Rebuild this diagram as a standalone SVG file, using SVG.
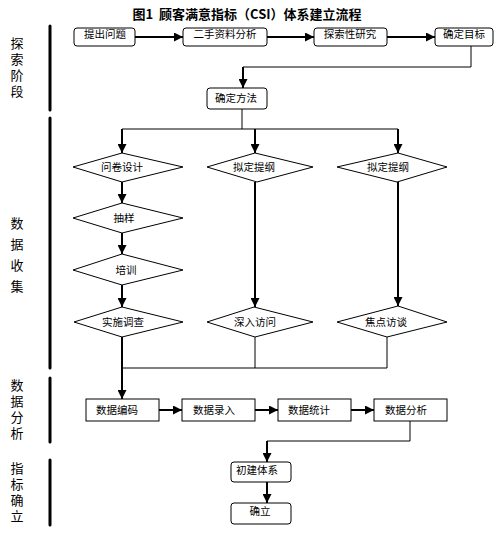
<svg xmlns="http://www.w3.org/2000/svg" width="504" height="544" viewBox="0 0 504 544">
<defs>
<marker id="ah" viewBox="0 0 10 10" refX="10" refY="5" markerWidth="9" markerHeight="9" markerUnits="userSpaceOnUse" orient="auto">
<path d="M0,0 L10,5 L0,10 z" fill="#000"/>
</marker>
<style>
.t{font-family:"Noto Sans CJK SC","Noto Sans",sans-serif;font-size:10.5px;fill:#000;text-anchor:middle}
.lab{font-family:"Noto Sans CJK SC","Noto Sans",sans-serif;font-size:13px;fill:#000;writing-mode:vertical-rl;text-anchor:start}
.title{font-family:"Noto Sans CJK SC","Noto Sans",sans-serif;font-size:13px;font-weight:bold;fill:#000;text-anchor:middle}
.box{fill:#fff;stroke:#000;stroke-width:1}
.bar{stroke:#000;stroke-width:3;stroke-linecap:round}
.thin{fill:none;stroke:#000;stroke-width:1}
.thick{fill:none;stroke:#000;stroke-width:2;marker-end:url(#ah)}
</style>
</defs>
<rect width="504" height="544" fill="#fff"/>
<text class="title" x="247" y="19" xml:space="preserve">图1  顾客满意指标（CSI）体系建立流程</text>

<g id="stages">
<line class="bar" x1="50" y1="26" x2="50" y2="110"/>
<line class="bar" x1="50" y1="118" x2="50" y2="368"/>
<line class="bar" x1="50" y1="378" x2="50" y2="442"/>
<line class="bar" x1="50" y1="460" x2="50" y2="525"/>
<text class="lab" x="17" y="36.5" letter-spacing="3">探索阶段</text>
<text class="lab" x="17" y="216.5" letter-spacing="8">数据收集</text>
<text class="lab" x="17" y="378.5" letter-spacing="3">数据分析</text>
<text class="lab" x="17" y="461.5" letter-spacing="3">指标确立</text>
</g>

<g id="connectors">
<line class="thick" x1="135" y1="37" x2="183" y2="37"/>
<line class="thick" x1="267" y1="37" x2="314" y2="37"/>
<line class="thick" x1="387" y1="37" x2="435" y2="37"/>
<polyline class="thin" points="471,46 471,67 243,67"/>
<line class="thick" x1="243" y1="67" x2="243" y2="88"/>
<line class="thin" x1="242" y1="109" x2="242" y2="129"/>
<line class="thin" x1="122" y1="129" x2="398" y2="129"/>
<line class="thick" x1="122" y1="129" x2="122" y2="153"/>
<line class="thick" x1="255" y1="129" x2="255" y2="153"/>
<line class="thick" x1="398" y1="129" x2="398" y2="153"/>
<line class="thick" x1="122" y1="182" x2="122" y2="203"/>
<line class="thick" x1="122" y1="233" x2="122" y2="254"/>
<line class="thick" x1="122" y1="285" x2="122" y2="307"/>
<line class="thick" x1="255" y1="182" x2="255" y2="307"/>
<line class="thick" x1="398" y1="182" x2="398" y2="306"/>
<line class="thin" x1="255" y1="337" x2="255" y2="368"/>
<line class="thin" x1="387" y1="337" x2="387" y2="368"/>
<line class="thin" x1="122" y1="368" x2="387" y2="368"/>
<line class="thick" x1="122" y1="337" x2="122" y2="399"/>
<line class="thick" x1="159" y1="410" x2="182" y2="410"/>
<line class="thick" x1="255" y1="410" x2="278" y2="410"/>
<line class="thick" x1="351" y1="410" x2="374" y2="410"/>
<polyline class="thin" points="410,421 410,441 267,441"/>
<line class="thick" x1="267" y1="441" x2="267" y2="462"/>
<line class="thick" x1="267" y1="482" x2="267" y2="503"/>
</g>

<g id="n1"><rect class="box" x="74" y="28" width="61" height="18" rx="3"/><text class="t" x="105" y="37.5">提出问题</text></g>
<g id="n2"><rect class="box" x="183" y="28" width="84" height="18" rx="3"/><text class="t" x="225" y="37.5">二手资料分析</text></g>
<g id="n3"><rect class="box" x="314" y="28" width="73" height="18" rx="3"/><text class="t" x="350" y="37.5">探索性研究</text></g>
<g id="n4"><rect class="box" x="435" y="28" width="58" height="18" rx="3"/><text class="t" x="464" y="37.5">确定目标</text></g>
<g id="n5"><rect class="box" x="207" y="88" width="60" height="21" rx="3"/><text class="t" x="236" y="102">确定方法</text></g>

<g id="d1"><polygon class="box" points="122,153 183,167 122,182 73,167"/><text class="t" x="122" y="171">问卷设计</text></g>
<g id="d2"><polygon class="box" points="255,153 313,167 257,182 207,167"/><text class="t" x="254" y="171">拟定提纲</text></g>
<g id="d3"><polygon class="box" points="398,153 447,167 397,182 337,167"/><text class="t" x="388" y="171">拟定提纲</text></g>
<g id="d4"><polygon class="box" points="122,203 183,218 122,233 73,218"/><text class="t" x="124" y="222">抽样</text></g>
<g id="d5"><polygon class="box" points="122,254 183,270 122,285 73,270"/><text class="t" x="126" y="274">培训</text></g>
<g id="d6"><polygon class="box" points="122,307 183,322 122,337 74,322"/><text class="t" x="123" y="326">实施调查</text></g>
<g id="d7"><polygon class="box" points="254,307 313,322 255,337 207,322"/><text class="t" x="255" y="326">深入访问</text></g>
<g id="d8"><polygon class="box" points="398,306 447,322 387,337 337,322"/><text class="t" x="386" y="326">焦点访谈</text></g>

<g id="b1"><rect class="box" x="86" y="399" width="73" height="22"/><text class="t" x="117" y="414">数据编码</text></g>
<g id="b2"><rect class="box" x="182" y="399" width="73" height="22"/><text class="t" x="214" y="414">数据录入</text></g>
<g id="b3"><rect class="box" x="278" y="399" width="73" height="22"/><text class="t" x="309" y="414">数据统计</text></g>
<g id="b4"><rect class="box" x="374" y="399" width="73" height="22"/><text class="t" x="406" y="414">数据分析</text></g>

<g id="f1"><rect class="box" x="231" y="462" width="60" height="20" rx="3"/><text class="t" x="257" y="474">初建体系</text></g>
<g id="f2"><rect class="box" x="231" y="503" width="60" height="21" rx="3"/><text class="t" x="260" y="515">确立</text></g>
</svg>
